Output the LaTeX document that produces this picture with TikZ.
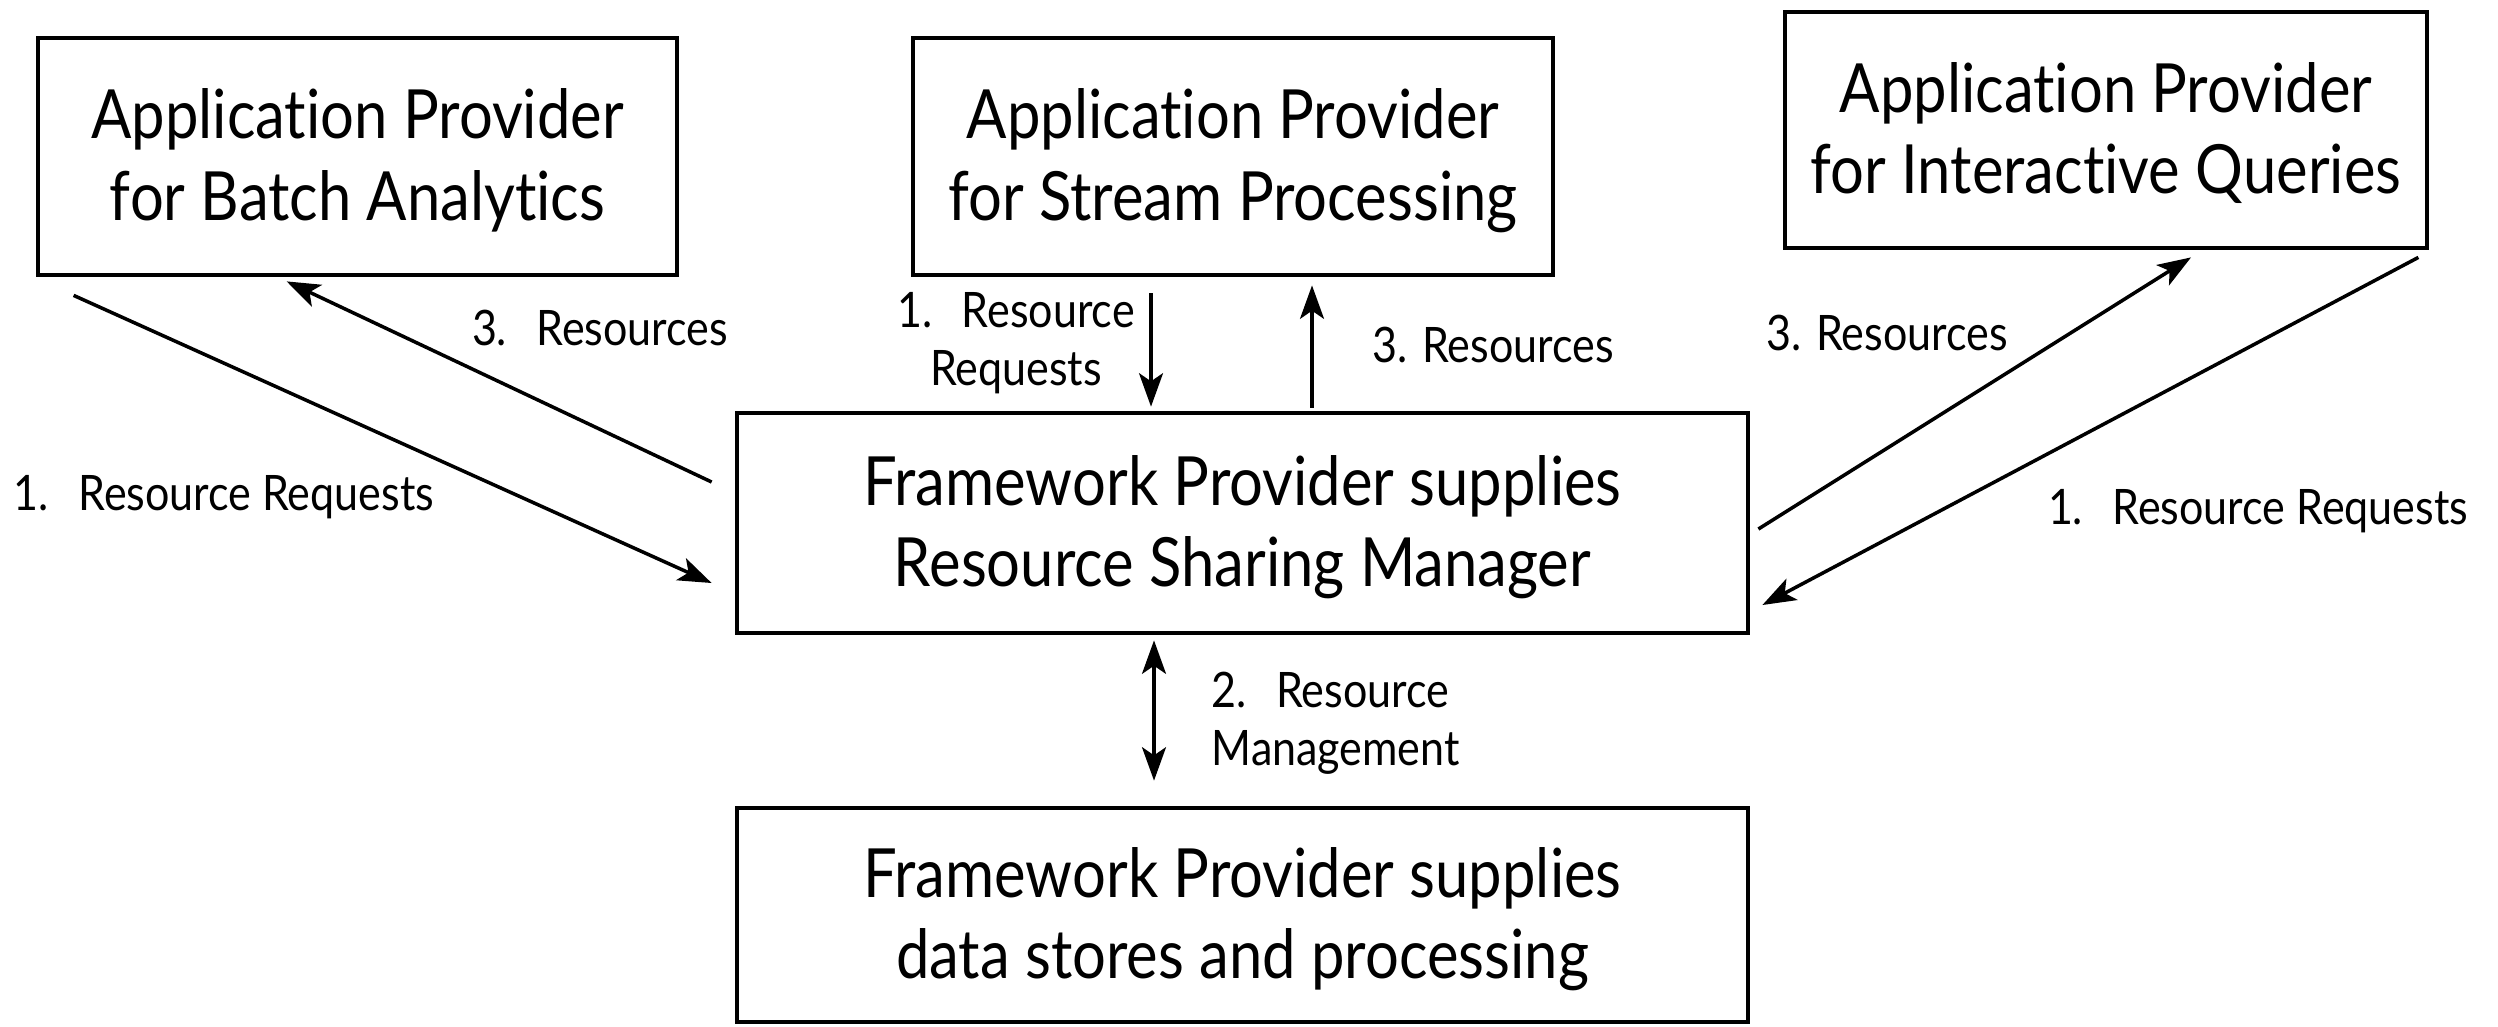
\documentclass[tikz,border=0pt]{standalone}
\usepackage{fontspec}
\setmainfont{Lato}[FakeStretch=0.88,Ligatures={NoCommon,NoRare}]
\usetikzlibrary{arrows.meta,calc}
\newcommand{\boxtext}[1]{\raisebox{-0.065cm}[\height][\depth]{\begin{tabular}{@{}c@{}}#1\end{tabular}}}
\begin{document}
\begin{tikzpicture}[x=0.01cm,y=-0.01cm,
  box/.style={draw,line width=1.35pt,rectangle,inner sep=0pt,align=center,
    font=\fontsize{19.3}{23.2}\selectfont},
  lbl/.style={inner sep=0pt,align=center,font=\fontsize{13.9}{16.6}\selectfont},
  conn/.style={line width=1pt,-{Stealth[length=9.5pt,width=6.8pt,inset=2.3pt]}},
  conn2/.style={line width=1pt,{Stealth[length=9.5pt,width=6.8pt,inset=2.3pt]}-{Stealth[length=9.5pt,width=6.8pt,inset=2.3pt]}}]
\useasboundingbox (0,0) rectangle (2498,1026);
\node[box,minimum width=639*0.01cm,minimum height=237*0.01cm] (A) at (357.5,156.5)
  {\boxtext{Application Provider\\for Batch Analytics}};
\node[box,minimum width=640*0.01cm,minimum height=237*0.01cm] (B) at (1233,156.5)
  {\boxtext{Application Provider\\for Stream Processing}};
\node[box,minimum width=642*0.01cm,minimum height=236*0.01cm] (C) at (2106,130)
  {\boxtext{Application Provider\\for Interactive Queries}};
\node[box,minimum width=1011*0.01cm,minimum height=220*0.01cm] (D) at (1242.5,523)
  {\boxtext{Framework Provider supplies\\Resource Sharing Manager}};
\node[box,minimum width=1011*0.01cm,minimum height=214*0.01cm] (E) at (1242.5,915)
  {\boxtext{Framework Provider supplies\\data stores and processing}};

\draw[conn] ($(A.south west)+(38,18)$) -- ($(D.west)+(-23,60)$);
\draw[conn] ($(D.west)+(-23,-41)$) -- ($(A.south west)+(251,4)$);
\draw[conn] ($(B.south)+(-82,16)$) -- ($(D.north)+(-91.5,-4)$);
\draw[conn] ($(D.north)+(69.5,-3)$) -- ($(B.south)+(79,8)$);
\draw[conn] ($(D.east)+(8,6)$) -- ($(C.south)+(85,7)$);
\draw[conn] ($(C.south east)+(-11,7)$) -- ($(D.east)+(12,82)$);
\draw[conn2] ($(D.south)+(-88.5,5)$) -- ($(E.north)+(-88.5,-25)$);

\node[lbl] (l1) at (600,328) {3.\hspace{0.6em}Resources};
\node[lbl] (l2) at (224,497) {1.\hspace{0.6em}Resource Requests};
\node[lbl] (l3) at (1016,343) {1.\hspace{0.6em}Resource\\Requests};
\node[lbl] (l4) at (1493,345) {3. Resources};
\node[lbl] (l5) at (1887,333) {3. Resources};
\node[lbl] (l6) at (2258,511) {1.\hspace{0.6em}Resource Requests};
\node[lbl,align=left,anchor=west] (l7) at (1211,723) {2.\hspace{0.6em}Resource\\Management};
\end{tikzpicture}
\end{document}
